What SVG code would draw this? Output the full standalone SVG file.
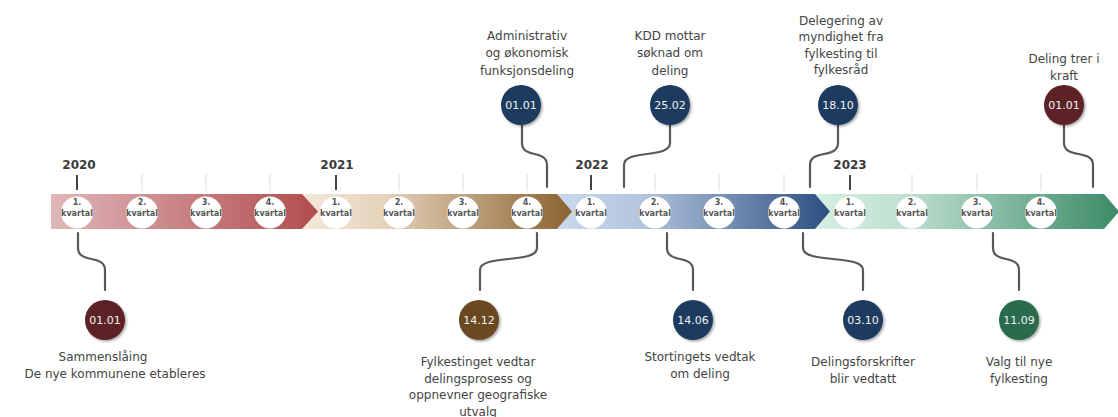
<svg xmlns="http://www.w3.org/2000/svg" width="1118" height="417" viewBox="0 0 1118 417">
<style>
.yr{font-family:"DejaVu Sans",sans-serif;font-weight:bold;font-size:12px;fill:#3a3a3a;text-anchor:middle}
.q{font-family:"DejaVu Sans",sans-serif;font-weight:bold;font-size:8px;fill:#555;text-anchor:middle}
.lbl{font-family:"DejaVu Sans",sans-serif;font-size:12px;fill:#444;text-anchor:middle}
.dt{font-family:"DejaVu Sans",sans-serif;font-size:11px;fill:#f2f2f2;text-anchor:middle}
.tick{stroke:#dcdcdc;stroke-width:1}
.ytick{stroke:#444;stroke-width:2}
.con{fill:none;stroke:#595959;stroke-width:2.2;stroke-linecap:round}
.qc{fill:#fff}
</style>
<defs>
<linearGradient id="g1" x1="0" x2="1" y1="0" y2="0"><stop offset="0" stop-color="#e0b6b8"/><stop offset="1" stop-color="#b14d4e"/></linearGradient>
<linearGradient id="g2" x1="0" x2="1" y1="0" y2="0"><stop offset="0" stop-color="#f3e8da"/><stop offset="0.3" stop-color="#e6d3bc"/><stop offset="1" stop-color="#8a6230"/></linearGradient>
<linearGradient id="g3" x1="0" x2="1" y1="0" y2="0"><stop offset="0" stop-color="#c9d8ed"/><stop offset="0.3" stop-color="#b4c6e0"/><stop offset="1" stop-color="#2c4e80"/></linearGradient>
<linearGradient id="g4" x1="0" x2="1" y1="0" y2="0"><stop offset="0" stop-color="#d6eee3"/><stop offset="0.3" stop-color="#bfe0d0"/><stop offset="1" stop-color="#3b8b67"/></linearGradient>
<filter id="sh" x="-30%" y="-30%" width="160%" height="160%"><feDropShadow dx="1.5" dy="1.5" stdDeviation="1.2" flood-color="#000" flood-opacity="0.35"/></filter>
</defs>

<g id="band">
<polygon points="815,194 1104,194 1119,211.5 1104,229 815,229" fill="url(#g4)"/>
<polygon points="557,194 815,194 830,211.5 815,229 557,229" fill="url(#g3)"/>
<polygon points="302,194 557,194 572,211.5 557,229 302,229" fill="url(#g2)"/>
<polygon points="51,194 302,194 318,211.5 302,229 51,229" fill="url(#g1)"/>
</g>

<g id="ticks">
<line class="ytick" x1="77" y1="175" x2="77" y2="190"/>
<line class="tick" x1="142" y1="174" x2="142" y2="191"/>
<line class="tick" x1="206" y1="174" x2="206" y2="191"/>
<line class="tick" x1="270" y1="174" x2="270" y2="191"/>
<line class="ytick" x1="336" y1="175" x2="336" y2="190"/>
<line class="tick" x1="399" y1="174" x2="399" y2="191"/>
<line class="tick" x1="463" y1="174" x2="463" y2="191"/>
<line class="tick" x1="527" y1="174" x2="527" y2="191"/>
<line class="ytick" x1="591" y1="175" x2="591" y2="190"/>
<line class="tick" x1="655" y1="174" x2="655" y2="191"/>
<line class="tick" x1="719" y1="174" x2="719" y2="191"/>
<line class="tick" x1="784" y1="174" x2="784" y2="191"/>
<line class="ytick" x1="850" y1="175" x2="850" y2="190"/>
<line class="tick" x1="912" y1="174" x2="912" y2="191"/>
<line class="tick" x1="977" y1="174" x2="977" y2="191"/>
<line class="tick" x1="1041" y1="174" x2="1041" y2="191"/>
<text class="yr" x="79" y="169">2020</text>
<text class="yr" x="337" y="169">2021</text>
<text class="yr" x="592" y="169">2022</text>
<text class="yr" x="850" y="169">2023</text>
</g>

<g id="quarters">
<g id="q2020-1"><circle class="qc" cx="77" cy="212.5" r="16"/><text class="q" x="77" y="205">1.</text><text class="q" x="77" y="216">kvartal</text></g>
<g id="q2020-2"><circle class="qc" cx="142" cy="212.5" r="16"/><text class="q" x="142" y="205">2.</text><text class="q" x="142" y="216">kvartal</text></g>
<g id="q2020-3"><circle class="qc" cx="206" cy="212.5" r="16"/><text class="q" x="206" y="205">3.</text><text class="q" x="206" y="216">kvartal</text></g>
<g id="q2020-4"><circle class="qc" cx="270" cy="212.5" r="16"/><text class="q" x="270" y="205">4.</text><text class="q" x="270" y="216">kvartal</text></g>
<g id="q2021-1"><circle class="qc" cx="336" cy="212.5" r="16"/><text class="q" x="336" y="205">1.</text><text class="q" x="336" y="216">kvartal</text></g>
<g id="q2021-2"><circle class="qc" cx="399" cy="212.5" r="16"/><text class="q" x="399" y="205">2.</text><text class="q" x="399" y="216">kvartal</text></g>
<g id="q2021-3"><circle class="qc" cx="463" cy="212.5" r="16"/><text class="q" x="463" y="205">3.</text><text class="q" x="463" y="216">kvartal</text></g>
<g id="q2021-4"><circle class="qc" cx="527" cy="212.5" r="16"/><text class="q" x="527" y="205">4.</text><text class="q" x="527" y="216">kvartal</text></g>
<g id="q2022-1"><circle class="qc" cx="591" cy="212.5" r="16"/><text class="q" x="591" y="205">1.</text><text class="q" x="591" y="216">kvartal</text></g>
<g id="q2022-2"><circle class="qc" cx="655" cy="212.5" r="16"/><text class="q" x="655" y="205">2.</text><text class="q" x="655" y="216">kvartal</text></g>
<g id="q2022-3"><circle class="qc" cx="719" cy="212.5" r="16"/><text class="q" x="719" y="205">3.</text><text class="q" x="719" y="216">kvartal</text></g>
<g id="q2022-4"><circle class="qc" cx="784" cy="212.5" r="16"/><text class="q" x="784" y="205">4.</text><text class="q" x="784" y="216">kvartal</text></g>
<g id="q2023-1"><circle class="qc" cx="850" cy="212.5" r="16"/><text class="q" x="850" y="205">1.</text><text class="q" x="850" y="216">kvartal</text></g>
<g id="q2023-2"><circle class="qc" cx="912" cy="212.5" r="16"/><text class="q" x="912" y="205">2.</text><text class="q" x="912" y="216">kvartal</text></g>
<g id="q2023-3"><circle class="qc" cx="977" cy="212.5" r="16"/><text class="q" x="977" y="205">3.</text><text class="q" x="977" y="216">kvartal</text></g>
<g id="q2023-4"><circle class="qc" cx="1041" cy="212.5" r="16"/><text class="q" x="1041" y="205">4.</text><text class="q" x="1041" y="216">kvartal</text></g>
</g>

<g id="connectors">
<path class="con" d="M78,233 V248 C78,264 105,254 105,270 V290"/>
<path class="con" d="M537,233 V248 C537,264 480,254 480,270 V290"/>
<path class="con" d="M667,233 V248 C667,264 693,254 693,270 V290"/>
<path class="con" d="M803,233 V248 C803,264 863,254 863,270 V290"/>
<path class="con" d="M993,233 V248 C993,264 1019,254 1019,270 V290"/>
<path class="con" d="M522,125 V143 C522,159 547,149 547,165 V187"/>
<path class="con" d="M670,125 V143 C670,159 624,149 624,165 V187"/>
<path class="con" d="M838,125 V143 C838,159 810,149 810,165 V187"/>
<path class="con" d="M1064,125 V143 C1064,159 1093,149 1093,165 V187"/>
</g>

<g id="e2020">
<circle cx="105" cy="320" r="20" fill="#5b2326" filter="url(#sh)"/>
<text class="dt" x="105" y="324">01.01</text>
<text class="lbl" x="103" y="361">Sammenslåing</text>
<text class="lbl" x="115" y="378">De nye kommunene etableres</text>
</g>
<g id="e1412">
<circle cx="479" cy="320" r="20" fill="#6a4a21" filter="url(#sh)"/>
<text class="dt" x="479" y="324">14.12</text>
<text class="lbl" x="478" y="366">Fylkestinget vedtar</text>
<text class="lbl" x="478" y="383">delingsprosess og</text>
<text class="lbl" x="478" y="399">oppnevner geografiske</text>
<text class="lbl" x="478" y="416">utvalg</text>
</g>
<g id="e1406">
<circle cx="693" cy="320" r="20" fill="#1f3a5f" filter="url(#sh)"/>
<text class="dt" x="693" y="324">14.06</text>
<text class="lbl" x="700" y="361">Stortingets vedtak</text>
<text class="lbl" x="700" y="378">om deling</text>
</g>
<g id="e0310">
<circle cx="863" cy="320" r="20" fill="#1f3a5f" filter="url(#sh)"/>
<text class="dt" x="863" y="324">03.10</text>
<text class="lbl" x="863" y="366">Delingsforskrifter</text>
<text class="lbl" x="863" y="383">blir vedtatt</text>
</g>
<g id="e1109">
<circle cx="1019" cy="320" r="20" fill="#2b6a4d" filter="url(#sh)"/>
<text class="dt" x="1019" y="324">11.09</text>
<text class="lbl" x="1019" y="366">Valg til nye</text>
<text class="lbl" x="1019" y="383">fylkesting</text>
</g>
<g id="e0101a">
<circle cx="521" cy="105" r="20" fill="#1f3a5f" filter="url(#sh)"/>
<text class="dt" x="521" y="109">01.01</text>
<text class="lbl" x="527" y="40">Administrativ</text>
<text class="lbl" x="527" y="57">og økonomisk</text>
<text class="lbl" x="527" y="75">funksjonsdeling</text>
</g>
<g id="e2502">
<circle cx="670" cy="105" r="20" fill="#1f3a5f" filter="url(#sh)"/>
<text class="dt" x="670" y="109">25.02</text>
<text class="lbl" x="670" y="40">KDD mottar</text>
<text class="lbl" x="670" y="57">søknad om</text>
<text class="lbl" x="670" y="75">deling</text>
</g>
<g id="e1810">
<circle cx="838" cy="105" r="20" fill="#1f3a5f" filter="url(#sh)"/>
<text class="dt" x="838" y="109">18.10</text>
<text class="lbl" x="841" y="25">Delegering av</text>
<text class="lbl" x="841" y="41">myndighet fra</text>
<text class="lbl" x="841" y="58">fylkesting til</text>
<text class="lbl" x="841" y="74">fylkesråd</text>
</g>
<g id="e0101b">
<circle cx="1064" cy="105" r="20" fill="#5b2326" filter="url(#sh)"/>
<text class="dt" x="1064" y="109">01.01</text>
<text class="lbl" x="1064" y="63">Deling trer i</text>
<text class="lbl" x="1064" y="80">kraft</text>
</g>
</svg>
